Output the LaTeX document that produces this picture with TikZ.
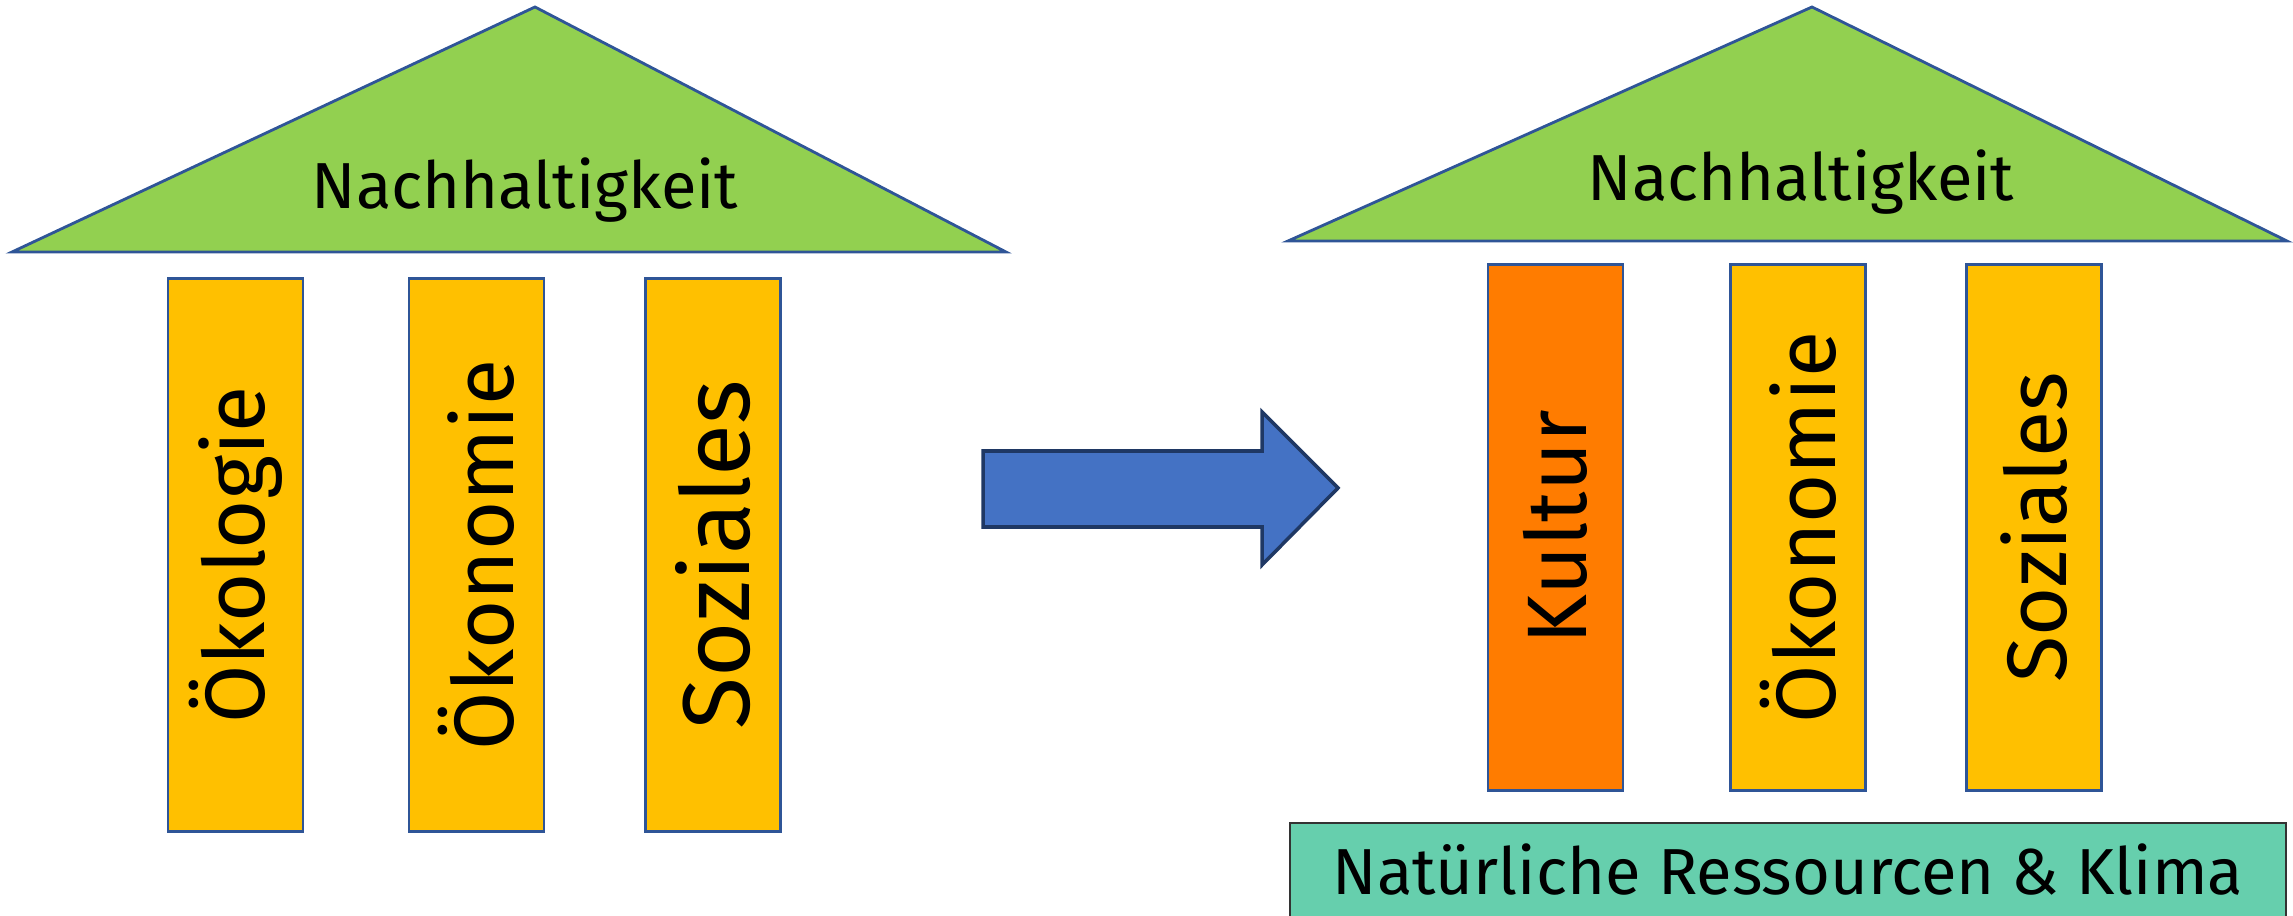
\documentclass[tikz,border=0pt]{standalone}
\usepackage{fontspec}
\setmainfont{Fira Sans}
\definecolor{roofgreen}{HTML}{92D050}
\definecolor{pillaryellow}{HTML}{FFC000}
\definecolor{kulturorange}{HTML}{FF7C00}
\definecolor{arrowblue}{HTML}{4472C4}
\definecolor{arrowedge}{HTML}{1F3864}
\definecolor{edgeblue}{HTML}{2F5597}
\definecolor{baseteal}{HTML}{66CFAD}
\begin{document}
\begin{tikzpicture}[x=0.01cm,y=-0.01cm,
  roof/.style={fill=roofgreen,draw=edgeblue,line width=0.8pt,line join=miter},
  roofText/.style={font=\fontsize{18.5}{22}\selectfont},
  pillar/.style={draw=edgeblue,line width=0.8pt,fill=pillaryellow,rotate=90,
    minimum height=1.35cm,inner sep=0pt,font=\fontsize{24}{28}\selectfont},
  bigarrow/.style={fill=arrowblue,draw=arrowedge,line width=1pt},
  basebox/.style={fill=baseteal,draw=black!80,line width=0.8pt}]
\useasboundingbox (0,0) rectangle (2293,916);
\clip (0,0) rectangle (2293,916);
% left roof
\draw[roof] (535,7) -- (1006,252) -- (12,252) -- cycle;
\node[roofText] (roofL) at (525,190) {Nachhaltigkeit};
% left pillars
\node[pillar,minimum width=5.52cm] (oekol) at (235.5,555) {Ökologie};
\node[pillar,minimum width=5.52cm] (oekonL) at (476.5,555) {Ökonomie};
\node[pillar,minimum width=5.52cm,font=\fontsize{27}{32}\selectfont] (sozL) at (713,555) {Soziales};
% arrow
\draw[bigarrow] (983,451) -- (1262,451) -- (1262,412) -- (1338,488) -- (1262,565) -- (1262,527) -- (983,527) -- cycle;
% right roof
\draw[roof] (1812,7) -- (2287,241) -- (1288,241) -- cycle;
\node[roofText] (roofR) at (1801,182) {Nachhaltigkeit};
% right pillars
\node[pillar,minimum width=5.25cm,fill=kulturorange] (kultur) at (1555.5,527.5) {Kultur};
\node[pillar,minimum width=5.25cm] (oekonR) at (1798,527.5) {Ökonomie};
\node[pillar,minimum width=5.25cm] (sozR) at (2034,527.5) {Soziales};
% base
\draw[basebox] (1290,823) rectangle (2286,960);
\node[roofText] (base) at (1788,870) {Natürliche Ressourcen \& Klima};
\end{tikzpicture}
\end{document}
